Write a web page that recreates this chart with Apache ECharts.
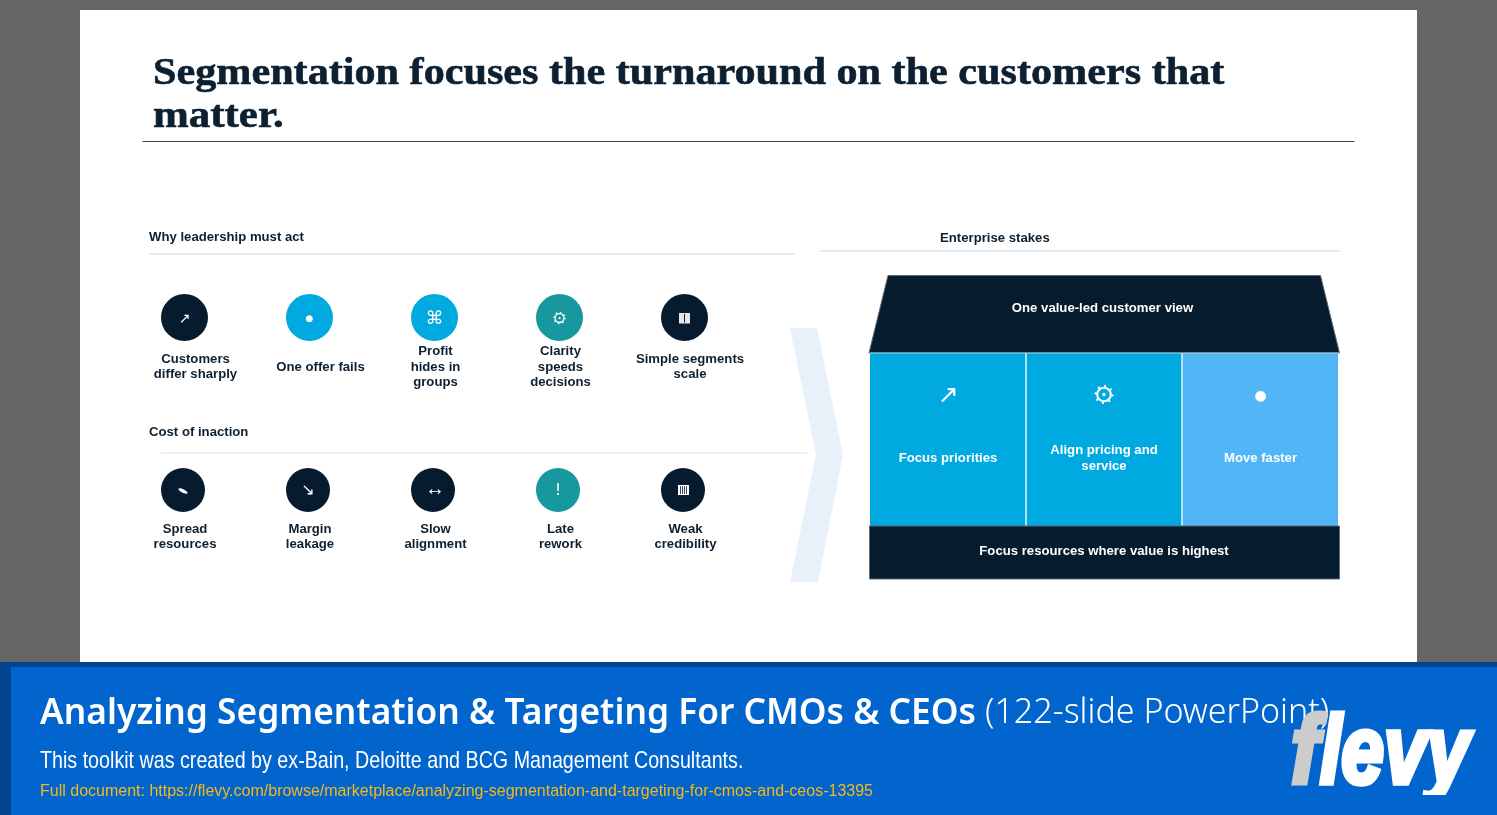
<!DOCTYPE html>
<html>
<head>
<meta charset="utf-8">
<title>Segmentation focuses the turnaround</title>
<script src="https://cdn.jsdelivr.net/npm/echarts@6/dist/echarts.min.js"></script>
<style>
html, body { margin: 0; padding: 0; background: #666666; }
#chart { width: 1497px; height: 815px; }
</style>
</head>
<body>
<div id="chart"></div>
<script>
// 页面文字
var titleLines = ['Segmentation focuses the turnaround on the customers that', 'matter.'];
var whyHeading = 'Why leadership must act';
var costHeading = 'Cost of inaction';
var stakesHeading = 'Enterprise stakes';
var whyLabels = ['Customers\ndiffer sharply', 'One offer fails', 'Profit\nhides in\ngroups', 'Clarity\nspeeds\ndecisions', 'Simple segments\nscale'];
var whyIcons = ['↗', '●', '⌘', 'gear', 'bar1'];
var costLabels = ['Spread\nresources', 'Margin\nleakage', 'Slow\nalignment', 'Late\nrework', 'Weak\ncredibility'];
var costIcons = ['blob', '↘', '↔', '!', 'bar4'];
var roofText = 'One value-led customer view';
var pillarLabels = ['Focus priorities', 'Align pricing and\nservice', 'Move faster'];
var pillarIcons = ['↗', 'gear', '●'];
var baseText = 'Focus resources where value is highest';
var bannerTitle = 'Analyzing Segmentation & Targeting For CMOs & CEOs';
var bannerTitleLight = '(122-slide PowerPoint)';
var bannerSub = 'This toolkit was created by ex-Bain, Deloitte and BCG Management Consultants.';
var bannerLink = 'Full document: https://flevy.com/browse/marketplace/analyzing-segmentation-and-targeting-for-cmos-and-ceos-13395';

var NAVY = '#061c2e', CYAN = '#00a9e0', TEAL = '#17989f', SKY = '#52b5f5', INK = '#0d2031', PALE = '#e3ebf3', BANNER = '#0265cd';
var SANS = '"Liberation Sans", Arial, sans-serif';
var ICON = '"DejaVu Sans", sans-serif';
var BODY = 'bold 13px ' + SANS;

var whyColors = [NAVY, CYAN, CYAN, TEAL, NAVY];
var costColors = [NAVY, NAVY, NAVY, TEAL, NAVY];
var whyCx = [184.5, 309.5, 434.5, 559.5, 684.5];
var whyLabelCx = [195.5, 320.5, 435.5, 560.5, 690];
var costCx = [183, 308, 433, 558, 683];
var costLabelCx = [185, 310, 435.5, 560.5, 685.5];
var iconSizes = { '↗': 14, '●': 9, '⌘': 18, '↘': 16, '↔': 20, '!': 15 };

var g = [];

function rect(x, y, w, h, fill, stroke) {
    g.push({ type: 'rect', shape: { x: x, y: y, width: w, height: h }, style: { fill: fill, stroke: stroke || null, lineWidth: stroke ? 1 : 0 } });
}
function poly(points, fill, stroke) {
    g.push({ type: 'polygon', shape: { points: points }, style: { fill: fill, stroke: stroke || null, lineWidth: stroke ? 1 : 0 } });
}
function text(str, x, y, font, fill, align, lineHeight, scaleX) {
    g.push({
        type: 'text', x: x, y: y, scaleX: scaleX || 1,
        style: { text: str, font: font, fill: fill, align: align || 'left', verticalAlign: 'middle', lineHeight: lineHeight }
    });
}
// 齿轮：圆环 + 虚线齿 + 中心点
function gear(cx, cy, r) {
    g.push({ type: 'circle', shape: { cx: cx, cy: cy, r: r }, style: { fill: 'none', stroke: '#ffffff', lineWidth: r * 0.3 } });
    g.push({ type: 'circle', shape: { cx: cx, cy: cy, r: r * 1.25 }, style: { fill: 'none', stroke: '#ffffff', lineWidth: r * 0.3, lineDash: [r * 0.28, r * 0.7] } });
    g.push({ type: 'circle', shape: { cx: cx, cy: cy, r: r * 0.25 }, style: { fill: '#ffffff' } });
}
function drawIcon(name, cx, cy) {
    if (name === 'gear') {
        gear(cx, cy, 4.5);
    } else if (name === 'blob') {
        g.push({ type: 'ellipse', x: cx, y: cy + 1, rotation: -0.45, shape: { cx: 0, cy: 0, rx: 5, ry: 1.8 }, style: { fill: '#ffffff' } });
    } else if (name === 'bar1') {
        rect(cx - 5.5, cy - 5, 11, 10.5, '#e6e6e6');
        rect(cx - 0.5, cy - 4, 1, 8.5, NAVY);
    } else if (name === 'bar4') {
        rect(cx - 5, cy - 5, 11, 10, '#ffffff');
        [-2.5, -0.5, 1.5, 3.5].forEach(function (dx) {
            rect(cx + dx - 0.4, cy - 4, 0.8, 8, NAVY);
        });
    } else if (name === '↔') {
        text(name, cx + 2, cy - 1, iconSizes[name] + 'px ' + SANS, '#ffffff', 'center');
    } else {
        text(name, cx, cy + 1, (iconSizes[name] || 14) + 'px ' + ICON, '#ffffff', 'center');
    }
}

// 白色幻灯片
rect(80, 10, 1337, 660, '#ffffff');

// 标题
[0, 1].forEach(function (i) {
    g.push({
        type: 'text', x: 153, y: 74.5 + i * 43, scaleX: i ? 1.13 : 1.11,
        style: { text: titleLines[i], font: 'bold 38px "Liberation Serif", serif', fill: INK, stroke: INK, lineWidth: 0.6, verticalAlign: 'middle' }
    });
});
rect(142.5, 141, 1212, 1, '#444a50');

// 小节标题和分隔线
text(whyHeading, 149, 237, BODY, INK, 'left', null, 1.012);
rect(149, 253, 646, 2, PALE);
text(costHeading, 149, 432, BODY, INK, 'left', null, 1.012);
rect(161, 452.5, 646, 1.5, PALE);
text(stakesHeading, 940, 238, BODY, INK, 'left', null, 1.012);
rect(820, 250, 520, 2, PALE);

// 图标圆 + 标签
whyCx.forEach(function (cx, i) {
    g.push({ type: 'circle', shape: { cx: cx, cy: 317.5, r: 23.5 }, style: { fill: whyColors[i] } });
    drawIcon(whyIcons[i], cx, 318);
    text(whyLabels[i], whyLabelCx[i], 367, BODY, INK, 'center', 15.5, 1.012);
});
costCx.forEach(function (cx, i) {
    g.push({ type: 'circle', shape: { cx: cx, cy: 490, r: 22 }, style: { fill: costColors[i] } });
    drawIcon(costIcons[i], cx, 490);
    text(costLabels[i], costLabelCx[i], 536.5, BODY, INK, 'center', 15, 1.012);
});

// 中间的箭头
poly([[790, 328], [817, 328], [843, 455], [818, 582], [790, 582], [816, 455]], '#e8f1fa');

// 房子：屋顶、三根柱子、底座
poly([[888, 275.5], [1320.5, 275.5], [1339.5, 353], [869, 353]], NAVY, '#5a6874');
rect(870, 353, 155.5, 173, CYAN);
rect(1026.5, 353, 155, 173, CYAN);
rect(1182.5, 353, 155.5, 173, SKY);
rect(869.5, 352.5, 470, 1, '#9fd8f2');
rect(1025.5, 353, 1, 173, '#d5eef9');
rect(1181.5, 353, 1, 173, '#d5eef9');
rect(869.5, 526, 470, 53, NAVY, '#5a6874');
text(roofText, 1102.5, 308, BODY, '#ffffff', 'center', null, 1.012);
var pillarCx = [948, 1104, 1260.5];
pillarCx.forEach(function (cx, i) {
    if (pillarIcons[i] === 'gear') {
        gear(cx, 394.5, 6.8);
    } else {
        text(pillarIcons[i], cx, 396, (pillarIcons[i] === '●' ? 14 : 25) + 'px ' + ICON, '#ffffff', 'center');
    }
    text(pillarLabels[i], cx, 458, BODY, '#ffffff', 'center', 16, 1.012);
});
text(baseText, 1104, 551, BODY, '#ffffff', 'center', null, 1.012);

// 底部横幅
rect(0, 662, 1497, 153, '#00448f');
rect(11, 667, 1486, 148, BANNER);
text(bannerTitle, 40, 713.5, '600 35.3px "Noto Sans", sans-serif', '#ffffff');
text(bannerTitleLight, 985, 713.5, '300 34px "Noto Sans", sans-serif', '#ffffff');
text(bannerSub, 40, 761, '24px ' + SANS, '#ffffff', 'left', null, 0.82);
text(bannerLink, 40, 792, '16px ' + SANS, '#f5b81c');

// flevy 标志，y 的尾巴在 795 处截平
var logoFont = 'italic bold 64px "Liberation Sans", sans-serif';
g.push({ type: 'text', x: 1291, y: 757, scaleX: 1.3, scaleY: 1.5,
    style: { text: 'f', font: logoFont, fill: '#cccccc', stroke: '#cccccc', lineWidth: 3.5, verticalAlign: 'middle' } });
g.push({ type: 'text', x: 1320, y: 757, scaleX: 1.2, scaleY: 1.5,
    style: { text: 'levy', font: logoFont, fill: '#ffffff', stroke: '#ffffff', lineWidth: 3.5, verticalAlign: 'middle' } });
rect(1290, 795, 207, 20, BANNER);

var chart = echarts.init(document.getElementById('chart'));
chart.setOption({
    animation: false,
    backgroundColor: '#666666',
    graphic: { elements: g }
});
</script>
</body>
</html>
